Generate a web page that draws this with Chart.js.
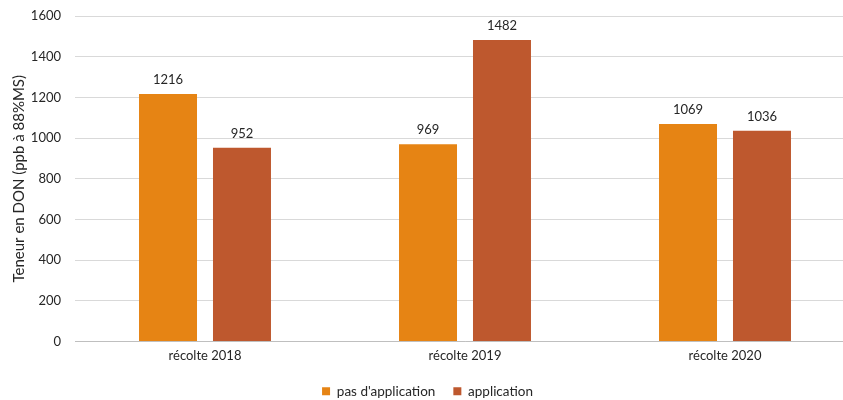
<!DOCTYPE html>
<html>
<head>
<meta charset="utf-8">
<script src="https://cdn.jsdelivr.net/npm/chart.js@4"></script>
<style>
  body { margin: 0; background: #fff; }
  #wrap { width: 843px; height: 400px; overflow: hidden; }
</style>
</head>
<body>
<div id="wrap"><canvas id="myChart" width="870" height="400"></canvas></div>
<script>
const categories = ['récolte 2018', 'récolte 2019', 'récolte 2020'];
const pasApplication = [1216, 969, 1069];
const application = [952, 1482, 1036];
const seriesNames = ["pas d'application", 'application'];
const yTicks = [0, 200, 400, 600, 800, 1000, 1200, 1400, 1600];

const FONT = 'Lato';
const TEXT = '#262626';

// draws the value above each bar
const valueLabels = {
    id: 'valueLabels',
    afterDatasetsDraw(chart) {
        const ctx = chart.ctx;
        ctx.save();
        ctx.font = '13px ' + FONT;
        ctx.fillStyle = TEXT;
        ctx.textAlign = 'center';
        ctx.textBaseline = 'alphabetic';
        chart.data.datasets.forEach((ds, i) => {
            chart.getDatasetMeta(i).data.forEach((bar, j) => {
                ctx.fillText(ds.data[j], bar.x, bar.y - 10);
            });
        });
        ctx.restore();
    }
};

var ctx = document.getElementById('myChart').getContext('2d');
var chart = new Chart(ctx, {
    type: 'bar',
    data: {
        labels: categories,
        datasets: [{
            label: seriesNames[0],
            data: pasApplication,
            backgroundColor: '#E68414',
            categoryPercentage: 0.569,
            barPercentage: 0.784
        }, {
            label: seriesNames[1],
            data: application,
            backgroundColor: '#BE582E',
            categoryPercentage: 0.569,
            barPercentage: 0.784
        }]
    },
    plugins: [valueLabels],
    options: {
        responsive: false,
        animation: false,
        layout: {
            padding: { top: 16, right: 15, left: 0, bottom: -8 }
        },
        plugins: {
            tooltip: { enabled: false },
            legend: {
                position: 'bottom',
                labels: {
                    color: TEXT,
                    boxWidth: 8,
                    boxHeight: 8,
                    padding: 18,
                    font: { family: FONT, size: 13.5 }
                }
            }
        },
        scales: {
            y: {
                min: 0,
                max: 1600,
                afterBuildTicks: (scale) => {
                    scale.ticks = yTicks.map(v => ({ value: v }));
                },
                afterFit: (scale) => { scale.width = 75; },
                border: { display: false },
                // invisible tick marks keep the labels away from the grid
                grid: { color: '#d9d9d9', drawTicks: true, tickLength: 14, tickColor: 'rgba(0,0,0,0)' },
                ticks: {
                    color: TEXT,
                    padding: 0,
                    callback: (v) => String(v),
                    font: { family: FONT, size: 13 }
                },
                title: {
                    display: true,
                    text: 'Teneur en DON (ppb à 88%MS)',
                    color: TEXT,
                    padding: { top: 10, bottom: 0 },
                    font: { family: FONT, size: 15 }
                }
            },
            x: {
                afterFit: (scale) => { scale.height = 25; },
                border: { display: true, color: '#bfbfbf', width: 1 },
                grid: { display: false, drawTicks: false },
                ticks: {
                    color: TEXT,
                    padding: 7,
                    font: { family: FONT, size: 13 }
                }
            }
        }
    }
});
</script>
</body>
</html>
